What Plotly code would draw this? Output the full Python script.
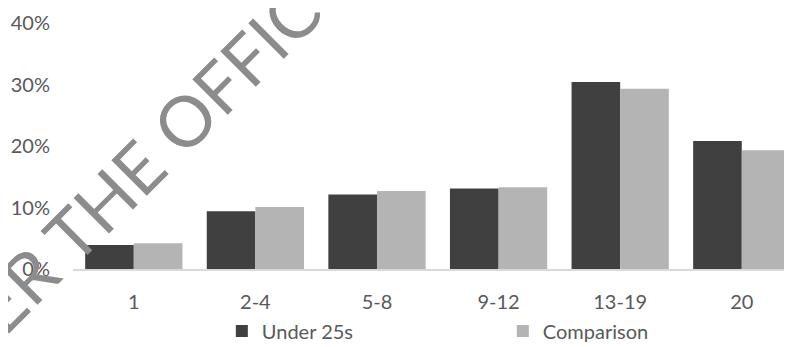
import plotly.graph_objects as go

categories = ["1", "2-4", "5-8", "9-12", "13-19", "20"]
under_25s = [0.039, 0.094, 0.121, 0.131, 0.304, 0.208]
comparison = [0.042, 0.101, 0.127, 0.133, 0.293, 0.193]
y_ticks = [0, 0.1, 0.2, 0.3, 0.4]
y_tick_labels = ["0%", "10%", "20%", "30%", "40%"]

FONT = "Lato"
TXT = "#595959"

fig = go.Figure()
fig.add_trace(go.Bar(x=categories, y=under_25s, name="Under 25s",
                     marker=dict(color="#404040", line=dict(width=0))))
fig.add_trace(go.Bar(x=categories, y=comparison, name="Comparison",
                     marker=dict(color="#b4b4b4", line=dict(width=0))))

fig.update_layout(
    width=792, height=347,
    margin=dict(l=65, r=8, t=15, b=86, pad=0, autoexpand=False),
    paper_bgcolor="white", plot_bgcolor="white",
    barmode="group", bargap=0.2, bargroupgap=0,
    font=dict(family=FONT, size=20, color=TXT),
    showlegend=True,
    legend=dict(orientation="h", xref="container", yref="container",
                x=0.270, y=0.013, xanchor="left", yanchor="bottom",
                entrywidth=236, entrywidthmode="pixels",
                itemwidth=30, font=dict(family=FONT, size=20, color=TXT),
                bgcolor="rgba(0,0,0,0)", tracegroupgap=0),
    xaxis=dict(type="category", range=[-0.5, 5.413], showgrid=False,
               showline=True, linecolor="#d9d9d9", linewidth=2,
               ticks="", ticklabelstandoff=14, zeroline=False, automargin=False,
               tickfont=dict(family=FONT, size=20, color=TXT)),
    yaxis=dict(range=[0, 0.4], tickvals=y_ticks, ticktext=y_tick_labels,
               showgrid=False, zeroline=False, showline=False, ticks="",
               ticklabelstandoff=22, automargin=False,
               tickfont=dict(family=FONT, size=20, color=TXT)),
)

fig.add_annotation(
    text="ER THE OFFIC", xref="paper", yref="paper",
    x=0.102, y=0.45, xanchor="center", yanchor="middle",
    showarrow=False, textangle=-45,
    font=dict(family=FONT, size=70, color="#8c8c8c"),
)

fig.write_html("out.html")
